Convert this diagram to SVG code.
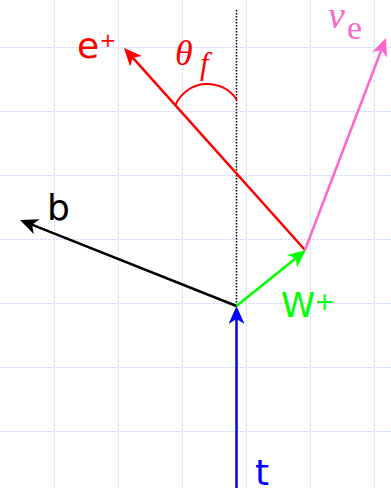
<svg xmlns="http://www.w3.org/2000/svg" width="391" height="488" viewBox="0 0 391 488">
<style>
.grid line{stroke:#d4e1fb;stroke-width:1;stroke-dasharray:3,1}
.vec{fill:none;stroke-width:2.5}
.sans{font-family:"DejaVu Sans",sans-serif}
.serif{font-family:"Liberation Serif","Times New Roman",serif}
</style>
<defs>
<marker id="ah-black" viewBox="0 0 18 16" refX="8" refY="8" markerWidth="18" markerHeight="16" markerUnits="userSpaceOnUse" orient="auto"><path d="M0,0 L18,8 L0,16 L5,8 z" fill="#000"/></marker>
<marker id="ah-blue" viewBox="0 0 18 16" refX="8" refY="8" markerWidth="18" markerHeight="16" markerUnits="userSpaceOnUse" orient="auto"><path d="M0,0 L18,8 L0,16 L5,8 z" fill="#0000ff"/></marker>
<marker id="ah-green" viewBox="0 0 18 16" refX="8" refY="8" markerWidth="18" markerHeight="16" markerUnits="userSpaceOnUse" orient="auto"><path d="M0,0 L18,8 L0,16 L5,8 z" fill="#00ff00"/></marker>
<marker id="ah-red" viewBox="0 0 18 16" refX="8" refY="8" markerWidth="18" markerHeight="16" markerUnits="userSpaceOnUse" orient="auto"><path d="M0,0 L18,8 L0,16 L5,8 z" fill="#ff0000"/></marker>
<marker id="ah-pink" viewBox="0 0 18 16" refX="8" refY="8" markerWidth="18" markerHeight="16" markerUnits="userSpaceOnUse" orient="auto"><path d="M0,0 L18,8 L0,16 L5,8 z" fill="#ff66cc"/></marker>
</defs>
<rect width="391" height="488" fill="#fff"/>
<g class="grid" id="grid">
<line x1="54.5" y1="0" x2="54.5" y2="488"/>
<line x1="118.5" y1="0" x2="118.5" y2="488"/>
<line x1="182.5" y1="0" x2="182.5" y2="488"/>
<line x1="246.5" y1="0" x2="246.5" y2="488"/>
<line x1="310.5" y1="0" x2="310.5" y2="488"/>
<line x1="374.5" y1="0" x2="374.5" y2="488"/>
<line x1="0" y1="47.5" x2="391" y2="47.5"/>
<line x1="0" y1="111.5" x2="391" y2="111.5"/>
<line x1="0" y1="175.5" x2="391" y2="175.5"/>
<line x1="0" y1="239.5" x2="391" y2="239.5"/>
<line x1="0" y1="303.5" x2="391" y2="303.5"/>
<line x1="0" y1="367.5" x2="391" y2="367.5"/>
<line x1="0" y1="431.5" x2="391" y2="431.5"/>
</g>
<g id="connectors">
<line id="axis" x1="236.5" y1="10" x2="236.5" y2="306" stroke="#000" stroke-width="1.5" stroke-dasharray="1.5,1.5"/>
<path id="angle-arc" d="M175,106 A35,35 0 0 1 237,100" fill="none" stroke="#ff0000" stroke-width="2"/>
<line id="vec-t" class="vec" x1="236.5" y1="488" x2="236.5" y2="316" stroke="#0000ff" marker-end="url(#ah-blue)"/>
<line id="vec-b" class="vec" x1="236.5" y1="306" x2="29.3" y2="223.7" stroke="#000" marker-end="url(#ah-black)"/>
<line id="vec-W" class="vec" x1="236.5" y1="306" x2="298.2" y2="256.3" stroke="#00ff00" marker-end="url(#ah-green)"/>
<line id="vec-e" class="vec" x1="305" y1="250" x2="130.7" y2="55.4" stroke="#ff0000" marker-end="url(#ah-red)"/>
<line id="vec-nu" class="vec" x1="305" y1="250" x2="382.4" y2="47.3" stroke="#ff66cc" marker-end="url(#ah-pink)"/>
</g>
<g id="label-e">
<text class="sans" x="77" y="58" font-size="36" fill="#ff0000">e</text>
<text class="sans" x="108" y="46.5" font-size="20" fill="#ff0000" text-anchor="middle">+</text>
</g>
<g id="label-theta">
<text class="serif" x="175" y="64.5" font-size="36" font-style="italic" fill="#ff0000">θ</text>
<text class="serif" x="200" y="74" font-size="31" font-style="italic" fill="#ff0000">f</text>
</g>
<g id="label-nu">
<text class="serif" x="328" y="27.5" font-size="38" font-style="italic" fill="#ff66cc">ν</text>
<text class="serif" x="347" y="38.5" font-size="34" fill="#ff66cc">e</text>
</g>
<g id="label-b">
<text class="sans" x="47" y="219.5" font-size="36" fill="#000">b</text>
</g>
<g id="label-W">
<text class="sans" x="281" y="317" font-size="34.5" fill="#00ff00">W</text>
<text class="sans" x="324.5" y="309.5" font-size="24" fill="#00ff00" text-anchor="middle">+</text>
</g>
<g id="label-t">
<text class="sans" x="255" y="485" font-size="36" fill="#0000ff">t</text>
</g>
</svg>
